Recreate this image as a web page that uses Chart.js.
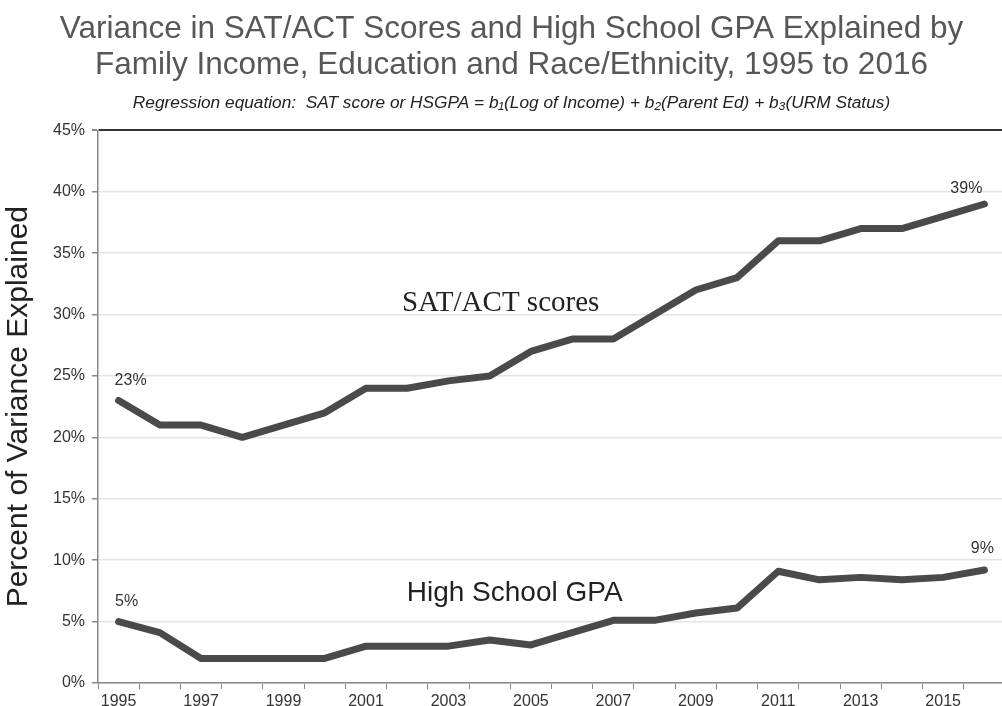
<!DOCTYPE html>
<html>
<head>
<meta charset="utf-8">
<script src="https://cdn.jsdelivr.net/npm/chart.js@4/dist/chart.umd.min.js"></script>
<style>
  html, body { margin: 0; padding: 0; background: #fff; overflow: hidden; }
  #wrap { width: 1020px; height: 706px; }
</style>
</head>
<body>
<div id="wrap"><canvas id="chart" width="1020" height="706"></canvas></div>
<script>
// data
const years = ['1995','1996','1997','1998','1999','2000','2001','2002','2003','2004','2005',
  '2006','2007','2008','2009','2010','2011','2012','2013','2014','2015','2016'];
const satAct = [23, 21, 21, 20, 21, 22, 24, 24, 24.6, 25, 27, 28, 28, 30, 32, 33, 36, 36, 37, 37, 38, 39];
const hsGpa = [5, 4.1, 2, 2, 2, 2, 3, 3, 3, 3.5, 3.1, 4.1, 5.1, 5.1, 5.7, 6.1, 9.1, 8.4, 8.6, 8.4, 8.6, 9.2];
const yTicks = [0, 5, 10, 15, 20, 25, 30, 35, 40, 45];

const LINE = '#4a4a4a';

// text labels anchored to the data through the scales
const labelPlugin = {
  id: 'lineLabels',
  afterDatasetsDraw(chart) {
    const { ctx, scales: { x, y } } = chart;
    const last = years.length - 1;
    ctx.save();
    ctx.textAlign = 'center';
    ctx.textBaseline = 'middle';
    ctx.fillStyle = '#333';
    ctx.font = '16px "Liberation Sans", Arial, sans-serif';
    ctx.fillText(Math.round(satAct[0]) + '%', x.getPixelForValue(0) + 12, y.getPixelForValue(satAct[0]) - 20);
    ctx.fillText(Math.round(hsGpa[0]) + '%', x.getPixelForValue(0) + 8, y.getPixelForValue(hsGpa[0]) - 20);
    ctx.fillText(Math.round(satAct[last]) + '%', x.getPixelForValue(last) - 18, y.getPixelForValue(satAct[last]) - 15);
    ctx.fillText(Math.round(hsGpa[last]) + '%', x.getPixelForValue(last) - 2, y.getPixelForValue(hsGpa[last]) - 21);

    ctx.fillStyle = '#222';
    ctx.font = '29px "Liberation Serif", "Times New Roman", serif';
    ctx.fillText('SAT/ACT scores', x.getPixelForValue(9) + 11, y.getPixelForValue(30.9));
    ctx.font = '28px "Liberation Sans", Arial, sans-serif';
    ctx.fillText('High School GPA', x.getPixelForValue(9) + 25, y.getPixelForValue(7.3));
    ctx.restore();
  }
};

new Chart(document.getElementById('chart'), {
  type: 'line',
  data: {
    labels: years,
    datasets: [
      { label: 'SAT/ACT scores', data: satAct },
      { label: 'High School GPA', data: hsGpa }
    ].map(ds => ({
      ...ds,
      borderColor: LINE,
      backgroundColor: LINE,
      borderWidth: 7,
      pointRadius: 0,
      tension: 0,
      borderJoinStyle: 'round',
      borderCapStyle: 'round'
    }))
  },
  options: {
    responsive: false,
    animation: false,
    // left padding recentres the titles; the y axis box is narrowed to keep the plot at x=98
    layout: { padding: { left: 18, right: 15, top: 0, bottom: 0 } },
    plugins: {
      legend: { display: false },
      tooltip: { enabled: false },
      title: {
        display: true,
        text: ['Variance in SAT/ACT Scores and High School GPA Explained by',
               'Family Income, Education and Race/Ethnicity, 1995 to 2016'],
        color: '#575757',
        font: { family: '"Liberation Sans", Arial, sans-serif', size: 31.5, weight: 'normal', lineHeight: 1.12 },
        padding: { top: 12, bottom: 10 }
      },
      subtitle: {
        display: true,
        text: 'Regression equation:  SAT score or HSGPA = b\u2081(Log of Income) + b\u2082(Parent Ed) + b\u2083(URM Status)',
        color: '#222',
        font: { family: '"Liberation Sans Narrow", "Arial Narrow", "Liberation Sans", Arial, sans-serif', size: 17.3, style: 'italic', lineHeight: 1.2 },
        padding: { top: 0, bottom: 17 }
      }
    },
    scales: {
      x: {
        type: 'category',
        offset: true,
        afterFit(scale) { scale.height = 23; },
        border: { display: true, color: '#888', width: 1.5 },
        grid: { offset: true, drawOnChartArea: false, drawTicks: true, tickLength: 6, tickColor: '#888' },
        ticks: {
          autoSkip: false,
          maxRotation: 0,
          padding: 3,
          color: '#333',
          font: { family: '"Liberation Sans", Arial, sans-serif', size: 16 },
          callback: (v, i) => (i % 2 === 0 ? years[i] : '')
        }
      },
      y: {
        min: 0,
        max: 45,
        afterFit(scale) { scale.width = 80; },
        afterBuildTicks(scale) { scale.ticks = yTicks.map(v => ({ value: v })); },
        border: { display: true, color: '#888', width: 1.5 },
        grid: {
          color: ctx => (ctx.tick && ctx.tick.value === 45 ? '#333' : '#e4e4e4'),
          lineWidth: ctx => (ctx.tick && ctx.tick.value === 45 ? 2 : 1.5),
          drawTicks: true,
          tickLength: 6,
          tickColor: '#888'
        },
        ticks: {
          padding: 7,
          color: '#333',
          font: { family: '"Liberation Sans", Arial, sans-serif', size: 16 },
          callback: v => v + '%'
        },
        title: {
          display: true,
          text: 'Percent of Variance Explained',
          color: '#222',
          font: { family: '"Liberation Sans", Arial, sans-serif', size: 30 },
          padding: { top: -17, bottom: 2 }
        }
      }
    }
  },
  plugins: [labelPlugin]
});
</script>
</body>
</html>
